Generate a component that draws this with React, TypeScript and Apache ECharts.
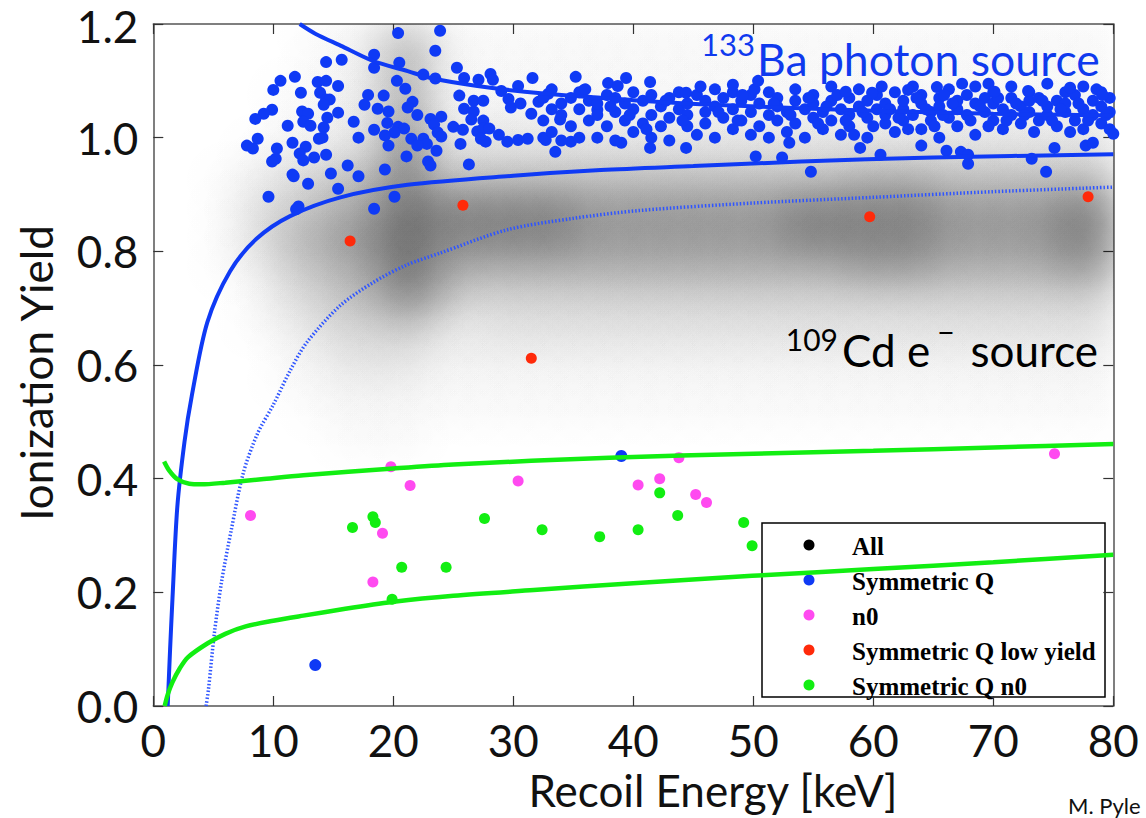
import React, { useEffect, useRef } from 'react';
import * as echarts from 'echarts';

// ---------- data ----------
const xMin = 0, xMax = 80, xStep = 10;
const yMin = 0, yMax = 1.2, yStep = 0.2;

// 133Ba photon band boundaries (solid blue)
const baUpperCurve = [[12.2,1.2],[13.5,1.183],[15.6,1.162],[18.3,1.135],[21.2,1.117],[23.1,1.105],[27,1.091],[32.3,1.078],[40,1.066],[45.6,1.059],[55,1.051],[62.3,1.046],[70,1.042],[80,1.039]];
const baLowerCurve = [[1.2,0],[1.4,0.1],[1.6,0.19],[2.0,0.35],[2.6,0.465],[3.2,0.545],[4.5,0.675],[6.4,0.765],[8.6,0.822],[11.4,0.862],[15.6,0.895],[21.2,0.917],[30,0.933],[37.3,0.943],[45,0.95],[54,0.958],[65,0.965],[80,0.971]];
// 109Cd electron line (dotted blue)
const cdDottedCurve = [[4.4,0],[4.6,0.03],[5.1,0.13],[5.7,0.22],[6.5,0.31],[7.5,0.41],[8.7,0.48],[10,0.53],[11.4,0.59],[12.8,0.64],[15.6,0.705],[18.3,0.745],[21,0.775],[23.9,0.797],[29.5,0.838],[35,0.858],[40.6,0.872],[50,0.885],[60,0.895],[70,0.905],[80,0.913]];
// nuclear recoil band (green)
const nrUpperCurve = [[0.9,0.43],[1.3,0.415],[2,0.399],[3,0.391],[4,0.39],[6,0.393],[9,0.399],[12.5,0.406],[20,0.418],[25,0.425],[38,0.437],[50,0.444],[60,0.449],[70,0.455],[80,0.461]];
const nrLowerCurve = [[0.95,0],[1.2,0.02],[1.6,0.042],[2.2,0.066],[2.9,0.086],[4.5,0.11],[6,0.127],[7.7,0.14],[10,0.15],[12.5,0.159],[16,0.171],[20.2,0.184],[25,0.194],[31.7,0.204],[40,0.216],[49.9,0.229],[60,0.241],[70,0.253],[80,0.266]];

// "All" events: density (0-9) per 2.5 keV x 0.05 cell, rows from y=1.20 downward
const cloudXBin = 2.5;
const cloudYBin = 0.05;
const cloudTopY = 1.2;
const cloudRows = [
  '00000113521111111111111111111111', // 1.15-1.20
  '00000113621111111111111111111111', // 1.10-1.15
  '00001123621111111111111111111111', // 1.05-1.10
  '00001123722222222222222222222222', // 1.00-1.05
  '00012234833333333333333333333333', // 0.95-1.00
  '00123456855555555555555666555555', // 0.90-0.95
  '00134567988888777777788888777788', // 0.85-0.90
  '00135678988888777777788888777788', // 0.80-0.85
  '00124567976666666666666777666677', // 0.75-0.80
  '00013456864444444444444444444444', // 0.70-0.75
  '00012344532333333333333333333333', // 0.65-0.70
  '00001233322222222222222222222222', // 0.60-0.65
  '00001122211111111111111111111111', // 0.55-0.60
  '00000111111111111111111111111111', // 0.50-0.55
  '00000011100000000000000000000000', // 0.45-0.50
];

const symmetricQ = [
  [20.4,1.184],[23.9,1.188],[23.5,1.153],[18.4,1.146],[14.4,1.133],[15.7,1.137],[20.5,1.132],[18.4,1.123],[25.3,1.123],
  [11.8,1.107],[10.6,1.1],[13.7,1.098],[14.4,1.1],[15.4,1.091],[10.0,1.084],[12.3,1.079],[13.9,1.079],[20.3,1.1],[21.0,1.086],
  [22.5,1.111],[23.5,1.104],[25.9,1.105],[27.1,1.102],[28.1,1.112],[28.3,1.102],[29.0,1.082],[30.4,1.091],[31.6,1.105],
  [17.9,1.075],[19.2,1.074],[25.5,1.074],[26.7,1.065],[27.5,1.065],[14.4,1.067],[14.7,1.067],[14.2,1.058],[12.4,1.046],
  [12.9,1.042],[15.4,1.044],[9.9,1.049],[9.2,1.042],[8.5,1.033],[17.6,1.058],[18.7,1.051],[19.6,1.046],[21.6,1.063],
  [21.2,1.053],[22.0,1.04],[23.1,1.033],[24.0,1.037],[25.9,1.051],[26.7,1.046],[27.5,1.03],[29.6,1.068],[29.8,1.053],
  [30.6,1.06],[31.5,1.042],[32.1,1.063],[16.7,1.028],[14.5,1.035],[12.5,1.028],[13.1,1.021],[11.2,1.021],[14.2,1.018],
  [14.1,1.0],[13.8,0.998],[18.4,1.014],[19.5,1.026],[20.4,1.019],[20.9,1.016],[20.1,1.009],[21.5,0.998],[22.5,0.998],
  [22.8,0.989],[22.0,0.986],[23.4,1.023],[23.7,1.009],[24.0,1.002],[25.0,1.019],[25.8,1.014],[26.5,1.032],[27.0,1.011],
  [27.5,1.016],[28.0,1.016],[28.8,1.005],[27.3,0.998],[27.7,0.993],[29.5,0.993],[30.4,0.996],[31.2,0.998],[25.6,0.989],
  [19.3,1.004],[19.6,0.986],[17.1,1.0],[11.6,0.991],[8.7,0.998],[7.8,0.986],[8.3,0.981],[10.3,0.981],[12.7,0.984],
  [12.2,0.972],[14.4,0.97],[13.4,0.965],[12.5,0.96],[10.2,0.963],[9.9,0.958],[16.2,0.951],[14.8,0.937],[11.6,0.935],
  [11.7,0.932],[12.9,0.919],[17.1,0.932],[19.3,0.944],[21.1,0.967],[23.6,0.977],[22.9,0.958],[23.1,0.951],[26.3,0.953],
  [9.6,0.896],[15.4,0.91],[12.1,0.879],[11.9,0.874],[18.4,0.875],[20.1,0.896],
  [35.2,1.107],[35.9,1.084],[32.9,1.077],[33.9,1.032],[32.7,0.996],[34.8,0.993],[33.5,0.975],[37.0,1.049],
  [32.5,1.07],[32.5,1.03],[32.5,1.0],[33.2,1.05],[33.2,1.085],[33.2,1.01],[34.0,1.04],[34.0,1.06],[34.0,0.995],
  [34.8,1.07],[34.8,1.02],[35.5,1.05],[35.5,1.08],[35.5,1.0],[36.3,1.03],[36.3,1.065],[37.0,1.06],[37.0,1.0],[37.0,1.04],
  [37.8,1.075],[37.8,1.02],[38.5,1.045],[38.5,1.07],[38.5,0.995],[39.3,1.03],[39.3,1.06],[40.0,1.05],[40.0,1.08],[40.0,1.01],
  [40.8,1.065],[40.8,1.025],[41.5,1.04],[41.5,1.075],[41.5,1.0],[42.3,1.055],[42.3,1.02],[43.0,1.07],[43.0,1.035],[43.0,0.995],
  [43.8,1.05],[43.8,1.08],[44.5,1.06],[44.5,1.02],[44.5,1.04],[45.3,1.075],[45.3,1.005],[46.0,1.045],[46.0,1.065],[46.0,1.025],
  [46.8,1.055],[46.8,1.085],[46.8,1.0],[47.5,1.035],[47.5,1.07],[48.3,1.05],[48.3,1.015],[48.3,1.08],[49.0,1.065],[49.0,1.03],
  [49.8,1.045],[49.8,1.075],[49.8,1.005],[50.5,1.06],[50.5,1.02],[51.3,1.04],[51.3,1.08],[51.3,1.0],[52.0,1.07],[52.0,1.03],
  [52.0,1.055],[52.8,1.045],[52.8,1.01],[53.5,1.065],[53.5,1.085],[53.5,1.025],[54.3,1.05],[54.3,1.0],[55.0,1.075],[55.0,1.035],
  [55.0,1.06],[55.8,1.045],[55.8,1.015],[56.5,1.065],[56.5,1.09],[56.5,1.03],[57.3,1.05],[57.3,1.005],[58.0,1.07],[58.0,1.04],
  [58.0,1.02],[58.8,1.055],[58.8,1.085],[59.5,1.035],[59.5,1.065],[59.5,1.0],[60.3,1.05],[60.3,1.075],[61.0,1.025],[61.0,1.06],
  [61.0,1.04],[61.8,1.08],[61.8,1.01],[62.5,1.05],[62.5,1.065],[62.5,1.03],[63.3,1.04],[63.3,1.09],[64.0,1.06],[64.0,1.015],
  [64.0,1.075],[64.8,1.045],[64.8,1.03],[65.5,1.07],[65.5,1.055],[65.5,1.0],[66.3,1.085],[66.3,1.035],[67.0,1.05],[67.0,1.065],
  [67.0,1.02],[67.8,1.075],[67.8,1.04],[68.5,1.06],[68.5,1.005],[68.5,1.09],[69.3,1.045],[69.3,1.07],[70.0,1.03],[70.0,1.06],
  [70.0,1.08],[70.8,1.05],[70.8,1.015],[71.5,1.07],[71.5,1.04],[71.5,1.09],[72.3,1.055],[72.3,1.025],[73.0,1.08],[73.0,1.045],
  [73.0,1.065],[73.8,1.03],[73.8,1.07],[74.5,1.055],[74.5,1.095],[74.5,1.04],[75.3,1.065],[75.3,1.02],[76.0,1.08],[76.0,1.045],
  [76.0,1.06],[76.8,1.03],[76.8,1.075],[77.5,1.05],[77.5,1.09],[77.5,1.015],[78.3,1.065],[78.3,1.04],[79.0,1.08],[79.0,1.055],
  [79.0,1.025],[79.7,1.07],[79.7,1.045],[79.7,1.015],
  [36.0,1.085],[38.1,1.055],[39.7,1.04],[41.1,1.015],[42.7,1.065],[44.1,1.03],[45.6,1.09],[47.1,1.045],[48.7,1.03],
  [50.1,1.085],[51.7,1.06],[53.1,1.04],[54.6,1.07],[55.4,1.025],[56.1,1.055],[57.0,1.075],[57.7,1.03],[58.4,1.005],
  [59.1,1.045],[60.0,1.02],[60.7,1.09],[61.4,1.05],[62.1,1.035],[62.9,1.015],[63.6,1.07],[64.4,1.05],[65.1,1.02],
  [65.8,1.04],[66.6,1.06],[67.4,1.095],[68.1,1.03],[68.9,1.055],[69.6,1.02],[70.4,1.07],[71.1,1.03],[71.9,1.06],
  [72.6,1.04],[73.4,1.01],[74.1,1.065],[74.9,1.03],[75.6,1.05],[76.4,1.01],[77.1,1.06],[77.9,1.03],[78.6,1.085],[79.4,1.04],
  [37.9,1.096],[38.7,1.091],[39.4,1.105],[41.4,1.098],[44.4,1.079],[48.3,1.093],[49.1,1.075],[50.4,1.1],[57.7,1.081],
  [59.9,1.079],[62.9,1.084],[65.3,1.089],[65.9,1.075],[69.6,1.095],[70.1,1.081],[72.9,1.082],[76.4,1.088],[79.1,1.075],
  [39.0,0.991],[41.4,0.982],[44.4,0.982],[50.2,0.967],[52.4,0.965],[53.0,0.991],[54.8,0.94],[58.9,0.982],[60.6,0.97],
  [64.0,0.986],[66.1,0.977],[67.3,0.975],[67.9,0.97],[67.9,0.954],[73.2,0.963],[74.4,0.94],[75.1,0.982],[77.7,0.986],
  [78.3,0.991],[80.0,1.007],
  [39.0,0.44],[13.5,0.072],
];
const n0 = [[8.1,0.335],[19.8,0.421],[21.4,0.388],[19.1,0.304],[18.3,0.218],[30.4,0.396],[40.4,0.389],[42.2,0.4],[43.8,0.437],[45.2,0.372],[46.1,0.358],[75.1,0.444]];
const symmetricQLowYield = [[16.4,0.818],[25.8,0.881],[31.5,0.612],[59.7,0.861],[77.9,0.896]];
const symmetricQn0 = [[16.6,0.314],[18.3,0.333],[18.5,0.323],[20.7,0.244],[24.4,0.244],[19.9,0.188],[27.6,0.33],[32.4,0.31],[37.2,0.298],[40.4,0.31],[42.2,0.375],[43.7,0.335],[49.2,0.323],[49.9,0.282]];

const legendNames = ['All', 'Symmetric Q', 'n0', 'Symmetric Q low yield', 'Symmetric Q n0'];

// ---------- styles ----------
const BLUE = '#0f3af5';
const PINK = '#ff4af0';
const RED = '#ff2a0a';
const GREEN = '#12ee12';
const legendColors = ['#000000', BLUE, PINK, RED, GREEN];
const cloudAlpha = [0, 0.035, 0.08, 0.13, 0.19, 0.26, 0.33, 0.41, 0.5, 0.6];
const KERNEL_SUM = 3.0; // overlap of the soft cell blobs
const FONT = 'Lato, "Open Sans", sans-serif';

export default function App() {
  const ref = useRef<HTMLDivElement>(null);
  useEffect(() => {
    if (!ref.current) return;
    const chart = echarts.init(ref.current, null, { renderer: 'svg' });

    const cloudData: number[][] = [];
    cloudRows.forEach((row, r) => {
      for (let c = 0; c < row.length; c++) {
        const lvl = Number(row[c]);
        if (lvl > 0) cloudData.push([(c + 0.5) * cloudXBin, cloudTopY - (r + 0.5) * cloudYBin, lvl]);
      }
    });

    const axisLine = { show: true, onZero: false, lineStyle: { color: '#555', width: 1.5 } };
    const axisTick = { show: true, inside: true, length: 10, lineStyle: { color: '#333', width: 1.2 } };
    const xBase = { type: 'value', min: xMin, max: xMax, interval: xStep, splitLine: { show: false }, axisLine, axisTick };
    const yBase = { type: 'value', min: yMin, max: yMax, interval: yStep, splitLine: { show: false }, axisLine, axisTick };

    const lineSeries = (data: number[][], color: string, width: number, type: any = 'solid') => ({
      type: 'line', data, symbol: 'none', smooth: 0.3, clip: true, silent: true,
      lineStyle: { color, width, type, cap: 'butt' },
    });
    const scatter = (name: string, data: number[][], color: string, size: number) => ({
      name, type: 'scatter', data, symbol: 'circle', symbolSize: size, silent: true, clip: true,
      itemStyle: { color, opacity: 1 },
    });

    const legendTop = 523, legendLeft = 762, legendW = 343, legendH = 174;
    const legendChildren: any[] = [
      { type: 'rect', shape: { x: legendLeft, y: legendTop, width: legendW, height: legendH },
        style: { fill: '#fff', stroke: '#000', lineWidth: 1.5 } },
    ];
    legendNames.forEach((n, i) => {
      const cy = legendTop + 22 + i * 35;
      legendChildren.push({ type: 'circle', shape: { cx: 809, cy, r: 5.5 }, style: { fill: legendColors[i] } });
      legendChildren.push({ type: 'text', style: { text: n, x: 852, y: cy + 1, font: 'bold 25px "Liberation Serif", "Times New Roman", serif', fill: '#000', verticalAlign: 'middle', align: 'left' } });
    });

    chart.setOption({
      animation: false,
      textStyle: { fontFamily: FONT },
      grid: { left: 153.3, right: 32.7, top: 22, bottom: 112, containLabel: false },
      xAxis: [
        { ...xBase, position: 'bottom', axisLabel: { fontSize: 44, fontFamily: FONT, color: '#111', margin: 12, showMinLabel: true, showMaxLabel: true } },
        { ...xBase, position: 'top', axisLabel: { show: false } },
      ],
      yAxis: [
        { ...yBase, position: 'left', axisLabel: {
          fontSize: 44, lineHeight: 34, fontFamily: FONT, color: '#111', margin: 15, showMinLabel: true, showMaxLabel: true,
          formatter: (v: number) => (v >= yMax - 1e-9 ? '{top|' + v.toFixed(1) + '}' : v.toFixed(1)),
          rich: { top: { fontSize: 44, lineHeight: 34, fontFamily: FONT, color: '#111', padding: [4, 0, 0, 0] } },
        } },
        { ...yBase, position: 'right', axisLabel: { show: false } },
      ],
      series: [
        {
          name: 'All', type: 'custom', data: cloudData, clip: true, silent: true,
          renderItem: (params: any, api: any) => {
            const cx = api.value(0), cy = api.value(1), lvl = api.value(2);
            const p0 = api.coord([cx - 2 * cloudXBin, cy + 2 * cloudYBin]);
            const p1 = api.coord([cx + 2 * cloudXBin, cy - 2 * cloudYBin]);
            const a = cloudAlpha[lvl];
            const peak = 1 - Math.pow(1 - a, 1 / KERNEL_SUM);
            const st = (o: number, f: number) => ({ offset: o, color: `rgba(0,0,0,${(peak * f).toFixed(4)})` });
            return {
              type: 'rect',
              shape: { x: p0[0], y: p0[1], width: p1[0] - p0[0], height: p1[1] - p0[1] },
              style: {
                fill: { type: 'radial', x: 0.5, y: 0.5, r: 0.5, colorStops: [
                  st(0, 1), st(0.25, 0.775), st(0.5, 0.36), st(0.75, 0.1), st(1, 0),
                ] },
              },
            };
          },
        },
        lineSeries(cdDottedCurve, '#2f55ff', 3.5, [1.5, 2]),
        lineSeries(baUpperCurve, BLUE, 4),
        lineSeries(baLowerCurve, BLUE, 4),
        lineSeries(nrUpperCurve, GREEN, 4.5),
        lineSeries(nrLowerCurve, GREEN, 4.5),
        scatter('Symmetric Q', symmetricQ, BLUE, 12),
        scatter('n0', n0, PINK, 11),
        scatter('Symmetric Q low yield', symmetricQLowYield, RED, 11),
        scatter('Symmetric Q n0', symmetricQn0, GREEN, 11),
      ],
      graphic: [
        { type: 'text', style: { text: '133', x: 755, y: 44, font: '31px ' + FONT, fill: BLUE, align: 'right', verticalAlign: 'middle' } },
        { type: 'text', style: { text: 'Ba photon source', x: 757, y: 58, font: '44.5px ' + FONT, fill: BLUE, align: 'left', verticalAlign: 'middle' } },
        { type: 'text', style: { text: '109', x: 838, y: 339, font: '30px ' + FONT, fill: '#000', align: 'right', verticalAlign: 'middle' } },
        { type: 'text', style: { text: 'Cd e', x: 842, y: 350, font: '44px ' + FONT, fill: '#000', align: 'left', verticalAlign: 'middle' } },
        { type: 'text', style: { text: '\u2212', x: 946, y: 331, font: '30px ' + FONT, fill: '#000', align: 'center', verticalAlign: 'middle' } },
        { type: 'text', style: { text: 'source', x: 1098, y: 350, font: '44px ' + FONT, fill: '#000', align: 'right', verticalAlign: 'middle' } },
        { type: 'text', style: { text: 'Recoil Energy [keV]', x: 713, y: 790, font: '44px ' + FONT, lineHeight: 40, fill: '#111', align: 'center', verticalAlign: 'middle' } },
        { type: 'text', rotation: Math.PI / 2, x: 36, y: 373, style: { text: 'Ionization Yield', x: 0, y: 0, font: '44px ' + FONT, fill: '#111', align: 'center', verticalAlign: 'middle' } },
        { type: 'text', style: { text: 'M. Pyle', x: 1068, y: 816, font: '22px ' + FONT, fill: '#111', align: 'left', verticalAlign: 'bottom' } },
        { type: 'group', children: legendChildren },
      ],
    } as any);
    return () => chart.dispose();
  }, []);
  return <div ref={ref} style={{ position: 'absolute', left: 0, top: 0, width: 1146, height: 818, background: '#fff' }} />;
}
